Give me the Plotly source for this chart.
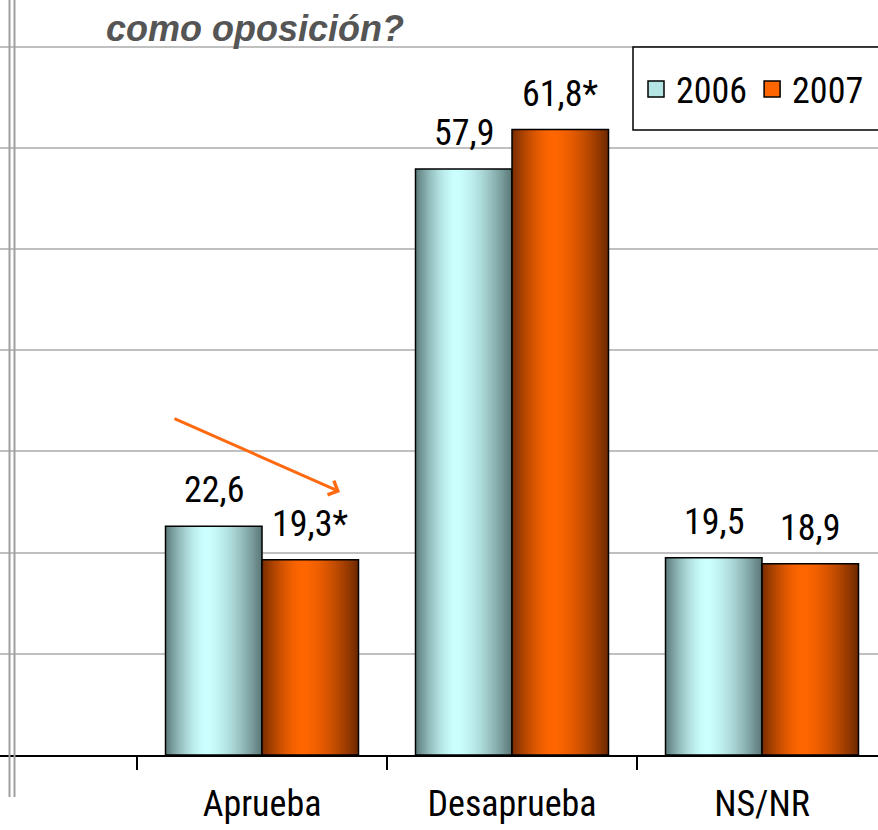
import plotly.graph_objects as go

categories = ["Aprueba", "Desaprueba", "NS/NR"]
years = ["2006", "2007"]
values_2006 = [22.6, 57.9, 19.5]
values_2007 = [19.3, 61.8, 18.9]
sig_2006 = ["", "", ""]
sig_2007 = ["*", "*", ""]
title_text = "como oposición?"

FONT = "Liberation Sans Narrow, Arial Narrow, Roboto Condensed, DejaVu Sans Condensed, sans-serif"

def lerp(c1, c2, f):
    return tuple(round(a + (b - a) * f) for a, b in zip(c1, c2))

def grad(edge_l, peak, edge_r, t, tp=0.42):
    if t <= tp:
        u = (tp - t) / tp
        f = 1 - u ** 1.6
        return lerp(edge_l, peak, max(0, f))
    u = (t - tp) / (1 - tp)
    f = 1 - u ** 1.6
    return lerp(edge_r, peak, max(0, f))

series = [
    dict(name="2006", vals=values_2006, sig=sig_2006, off=-0.386,
         edge_l=(92, 122, 122), peak=(204, 255, 255), edge_r=(90, 118, 118),
         legend="#b4e4e4"),
    dict(name="2007", vals=values_2007, sig=sig_2007, off=0.0,
         edge_l=(118, 44, 0), peak=(255, 102, 0), edge_r=(108, 40, 0),
         legend="#ff6600"),
]
BW = 0.386
N = 48
PX_PER_CAT = 250

fig = go.Figure()
for s in series:
    step = BW / N
    for i in range(N):
        t = (i + 0.5) / N
        c = grad(s["edge_l"], s["peak"], s["edge_r"], t)
        fig.add_trace(go.Bar(
            x=categories, y=s["vals"], width=BW - i * step,
            offset=s["off"] + i * step,
            marker=dict(color="rgb(%d,%d,%d)" % c, line=dict(width=0)),
            showlegend=False, hoverinfo="skip"))
    fig.add_trace(go.Bar(
        x=categories, y=s["vals"], width=BW, offset=s["off"],
        marker=dict(color="rgba(0,0,0,0)", line=dict(color="black", width=1.5)),
        showlegend=False, name=s["name"]))
    for c, v, sg in zip(categories, s["vals"], s["sig"]):
        fig.add_annotation(
            x=c, y=v, xref="x", yref="y", text=("%.1f" % v).replace(".", ",") + sg,
            showarrow=False, yanchor="bottom", xanchor="center",
            xshift=(s["off"] + BW / 2) * PX_PER_CAT, yshift=13,
            font=dict(family=FONT, size=36, color="black"))

for s in series:
    fig.add_trace(go.Scatter(
        x=[None], y=[None], mode="markers", name=s["name"],
        marker=dict(symbol="square", size=22, color=s["legend"],
                    line=dict(color="black", width=1.5))))

# arrow
fig.add_annotation(
    x=0.312, y=26.0, ax=-0.356, ay=33.3, xref="x", yref="y", axref="x", ayref="y",
    text="", showarrow=True, arrowhead=4, arrowsize=1.0, arrowwidth=3,
    arrowcolor="#ff6a10")

# title
fig.add_annotation(
    x=104 / 878, y=1 - 40 / 755, xref="paper", yref="paper", xanchor="left", yanchor="bottom",
    text="<b><i>%s</i></b>" % title_text, showarrow=False, yshift=-11,
    font=dict(family="Liberation Sans, Arial, sans-serif", size=36, color="#555555"))

# double left axis line
for xp in (9.5, 14.5):
    fig.add_shape(type="line", xref="paper", yref="paper",
                  x0=xp / 878, x1=xp / 878, y0=-42 / 755, y1=1,
                  line=dict(color="#a0a0a0", width=2))

# legend frame
fig.add_shape(type="rect", xref="paper", yref="paper",
              x0=633 / 878, x1=1.02, y0=1 - 130 / 755, y1=1 - 47 / 755,
              line=dict(color="black", width=1.5), fillcolor="white", layer="above")

fig.update_layout(
    width=878, height=830,
    margin=dict(l=0, r=0, t=0, b=75),
    paper_bgcolor="white", plot_bgcolor="white",
    barmode="overlay",
    showlegend=True,
    legend=dict(x=636 / 878, y=1 - 89 / 755, xanchor="left", yanchor="middle",
                orientation="h", borderwidth=0,
                bgcolor="rgba(0,0,0,0)", font=dict(family=FONT, size=36, color="black"),
                itemwidth=30, tracegroupgap=0),
    xaxis=dict(type="category", range=[-1.048, 2.464], showline=True,
               linecolor="black", linewidth=2, ticks="outside", tickson="boundaries",
               ticklen=13, tickcolor="black", tickwidth=2, ticklabelstandoff=16,
               tickfont=dict(family=FONT, size=36, color="black"),
               showgrid=False, zeroline=False, fixedrange=True),
    yaxis=dict(range=[0, 755 / 10.12], showgrid=True, gridcolor="#c0c0c0",
               gridwidth=2, dtick=10, showticklabels=False, zeroline=False,
               showline=False, fixedrange=True),
)

fig.write_html("out.html", config={"displayModeBar": False},
               post_script="document.body.style.margin='0';")
